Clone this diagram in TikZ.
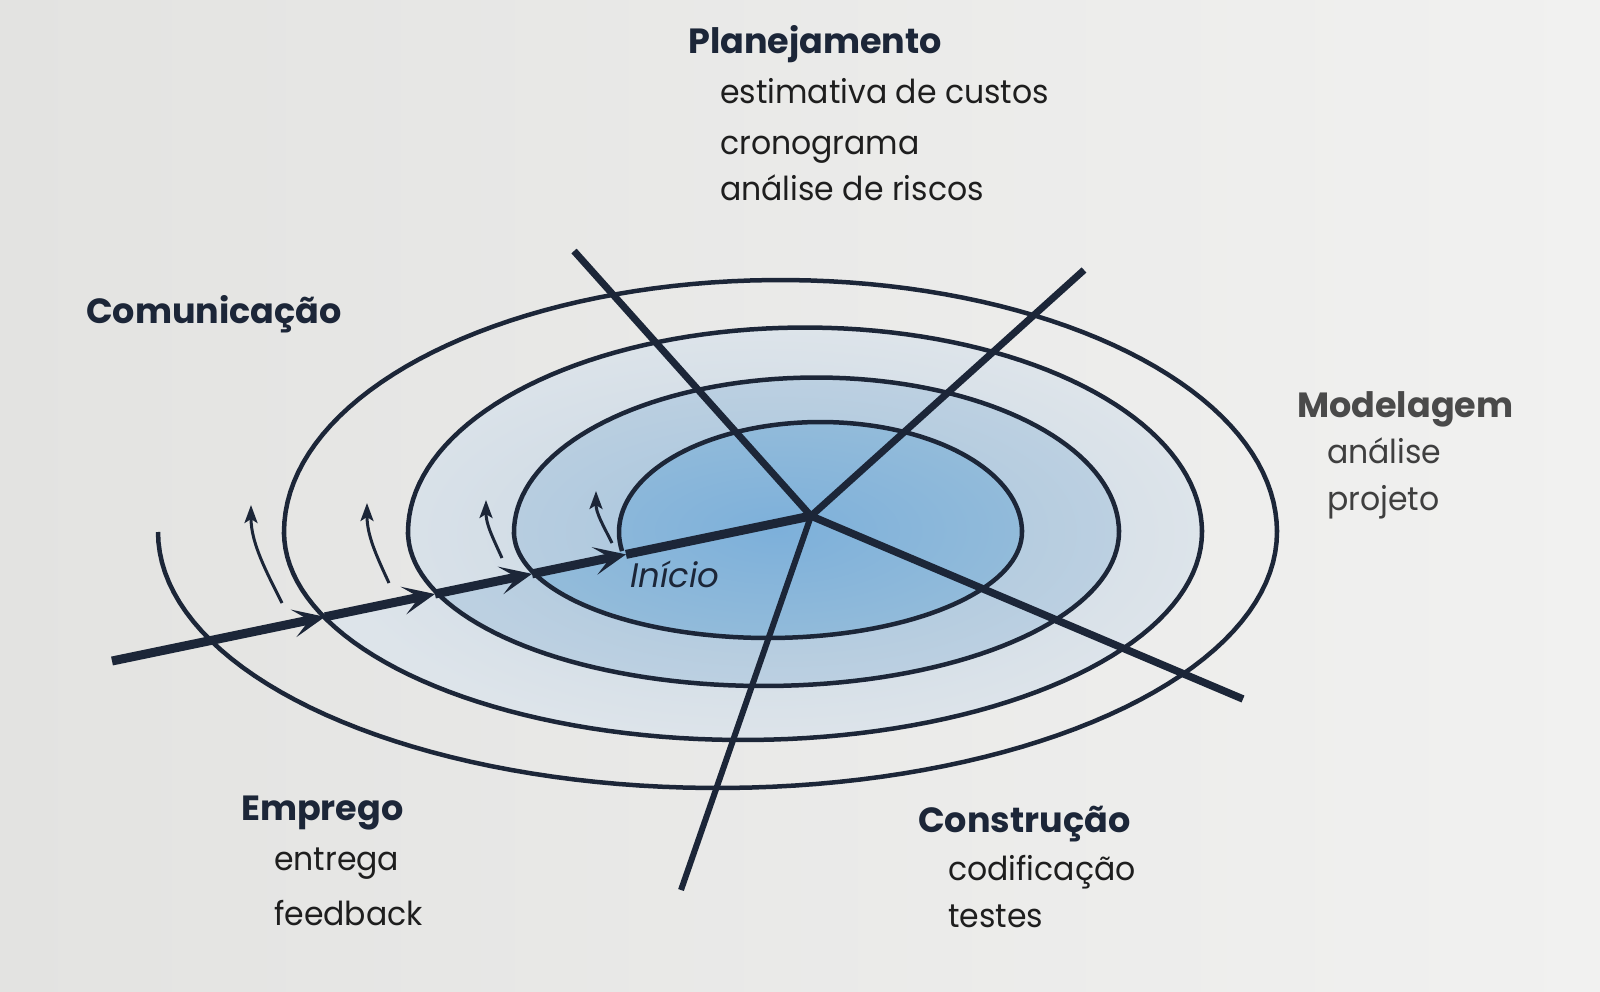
\documentclass[tikz,border=0pt]{standalone}
\usepackage{fontspec}
\setmainfont{Poppins}
\newfontfamily\itemfam[FakeStretch=0.955]{Poppins}
\usetikzlibrary{arrows.meta,calc}
\definecolor{ink}{HTML}{1C2638}
\definecolor{txt}{HTML}{1E1E1E}
\definecolor{fade}{HTML}{4A4A4A}
\definecolor{bgL}{HTML}{E3E3E1}
\definecolor{bgR}{HTML}{F1F1F0}
\definecolor{band2in}{HTML}{C6D5E2}
\definecolor{band2out}{HTML}{DDE4EA}
\definecolor{band3in}{HTML}{A6C4DD}
\definecolor{band3out}{HTML}{BCD0E1}
\definecolor{band4in}{HTML}{7DB0DA}
\definecolor{band4out}{HTML}{92BBDA}
\tikzset{
  spiralline/.style={draw=ink, line width=4.5pt},
  radial/.style={draw=ink, line width=7pt},
  axisline/.style={draw=ink, line width=9pt},
  axistip/.style={-{Stealth[length=32pt,width=28pt,inset=16pt]}},
  smallarrow/.style={draw=ink, line width=3pt, -{Stealth[length=18pt,width=13pt,inset=4pt]}},
  head/.style={font=\fontsize{35}{35}\selectfont\bfseries, text=ink, anchor=base west, inner sep=0pt},
  item/.style={font=\itemfam\fontsize{33}{33}\selectfont, text=txt, anchor=base west, inner sep=0pt},
}
\begin{document}
\begin{tikzpicture}[x=1pt,y=-1pt]
\fill[left color=bgL, right color=bgR] (0,0) rectangle (1600,991);
\useasboundingbox (0,0) rectangle (1600,991);
% band fills (regions bounded by the spiral and the axis)
\shade[inner color=band2in, outer color=band2out]
  plot[domain=156.5:180, samples=30] ({763.5+355.5*cos(\x)},{532+154*sin(\x)})
  -- plot[domain=180:360, samples=90] ({805+397*cos(\x)},{532+204.5*sin(\x)})
  -- plot[domain=0:155.6, samples=90] ({743+459*cos(\x)},{532+208*sin(\x)}) -- cycle;
\shade[inner color=band3in, outer color=band3out]
  plot[domain=158.3:180, samples=30] ({768+254*cos(\x)},{532+106*sin(\x)})
  -- plot[domain=180:360, samples=90] ({816.5+302.5*cos(\x)},{532+154.5*sin(\x)})
  -- plot[domain=0:156.5, samples=90] ({763.5+355.5*cos(\x)},{532+154*sin(\x)}) -- cycle;
\shade[inner color=band4in, outer color=band4out]
  plot[domain=170:360, samples=90] ({820.5+201.5*cos(\x)},{532+110*sin(\x)})
  -- plot[domain=0:158.3, samples=90] ({768+254*cos(\x)},{532+106*sin(\x)}) -- cycle;
% spiral
\draw[spiralline]
  plot[domain=170:360, samples=80] ({820.5+201.5*cos(\x)},{532+110*sin(\x)})
  -- plot[domain=0:180, samples=80] ({768+254*cos(\x)},{532+106*sin(\x)})
  -- plot[domain=180:360, samples=80] ({816.5+302.5*cos(\x)},{532+154.5*sin(\x)})
  -- plot[domain=0:180, samples=80] ({763.5+355.5*cos(\x)},{532+154*sin(\x)})
  -- plot[domain=180:360, samples=80] ({805+397*cos(\x)},{532+204.5*sin(\x)})
  -- plot[domain=0:180, samples=80] ({743+459*cos(\x)},{532+208*sin(\x)})
  -- plot[domain=180:360, samples=80] ({780.5+496.5*cos(\x)},{532+252*sin(\x)})
  -- plot[domain=0:180, samples=80] ({717.5+559.5*cos(\x)},{532+256*sin(\x)});
% radial lines
\coordinate (C) at (811,516);
\coordinate (P1) at (574,251);
\coordinate (P2) at (1084,270);
\coordinate (P3) at (1243,699);
\coordinate (P4) at (681,890);
\coordinate (A0) at (112,661);
\draw[radial] (C) -- (P1);
\draw[radial] (C) -- (P2);
\draw[radial, line width=7.5pt] (C) -- (P3);
\draw[radial, line width=6pt] (C) -- (P4);
% axis with arrowheads
\coordinate (X1) at ($(A0)!0.3047!(C)$);
\coordinate (X2) at ($(A0)!0.4620!(C)$);
\coordinate (X3) at ($(A0)!0.6009!(C)$);
\coordinate (X4) at ($(A0)!0.7353!(C)$);
\draw[axisline, axistip] (A0) -- (X1);
\draw[axisline, axistip] (X1) -- (X2);
\draw[axisline, axistip] (X2) -- (X3);
\draw[axisline, axistip] (X3) -- (X4);
\draw[axisline] (X4) -- (C);
% small curved arrows
\coordinate (s1) at (282,603); \coordinate (e1) at (251,505);
\coordinate (s2) at (389,583); \coordinate (e2) at (367,503);
\coordinate (s3) at (502,558); \coordinate (e3) at (486,500);
\coordinate (s4) at (612,543); \coordinate (e4) at (596,491);
\draw[smallarrow] (s1) .. controls ($(s1)+(-16,-32)$) and ($(e1)+(0,38)$) .. (e1);
\draw[smallarrow] (s2) .. controls ($(s2)+(-13,-28)$) and ($(e2)+(0,32)$) .. (e2);
\draw[smallarrow] (s3) .. controls ($(s3)+(-10,-22)$) and ($(e3)+(0,24)$) .. (e3);
\draw[smallarrow] (s4) .. controls ($(s4)+(-10,-20)$) and ($(e4)+(0,22)$) .. (e4);
% labels
\node[head] (plan) at (688,53) {Planejamento};
\node[item] (plan1) at (720,103) {estimativa de custos};
\node[item] (plan2) at (720,154) {cronograma};
\node[item] (plan3) at (720,200) {análise de riscos};
\node[head] (comu) at (86,323) {Comunicação};
\node[head, text=fade] (mode) at (1297,417) {Modelagem};
\node[item, text=fade!85!black] (mode1) at (1327,463) {análise};
\node[item, text=fade!85!black] (mode2) at (1327,510) {projeto};
\node[head] (empr) at (241,820) {Emprego};
\node[item] (empr1) at (274,870) {entrega};
\node[item] (empr2) at (274,925) {feedback};
\node[head] (cons) at (918,832) {Construção};
\node[item] (cons1) at (948,880) {codificação};
\node[item] (cons2) at (948,927) {testes};
\node[item, font=\fontsize{34}{34}\selectfont\itshape, text=ink] (ini) at (630,587) {Início};
\end{tikzpicture}
\end{document}
